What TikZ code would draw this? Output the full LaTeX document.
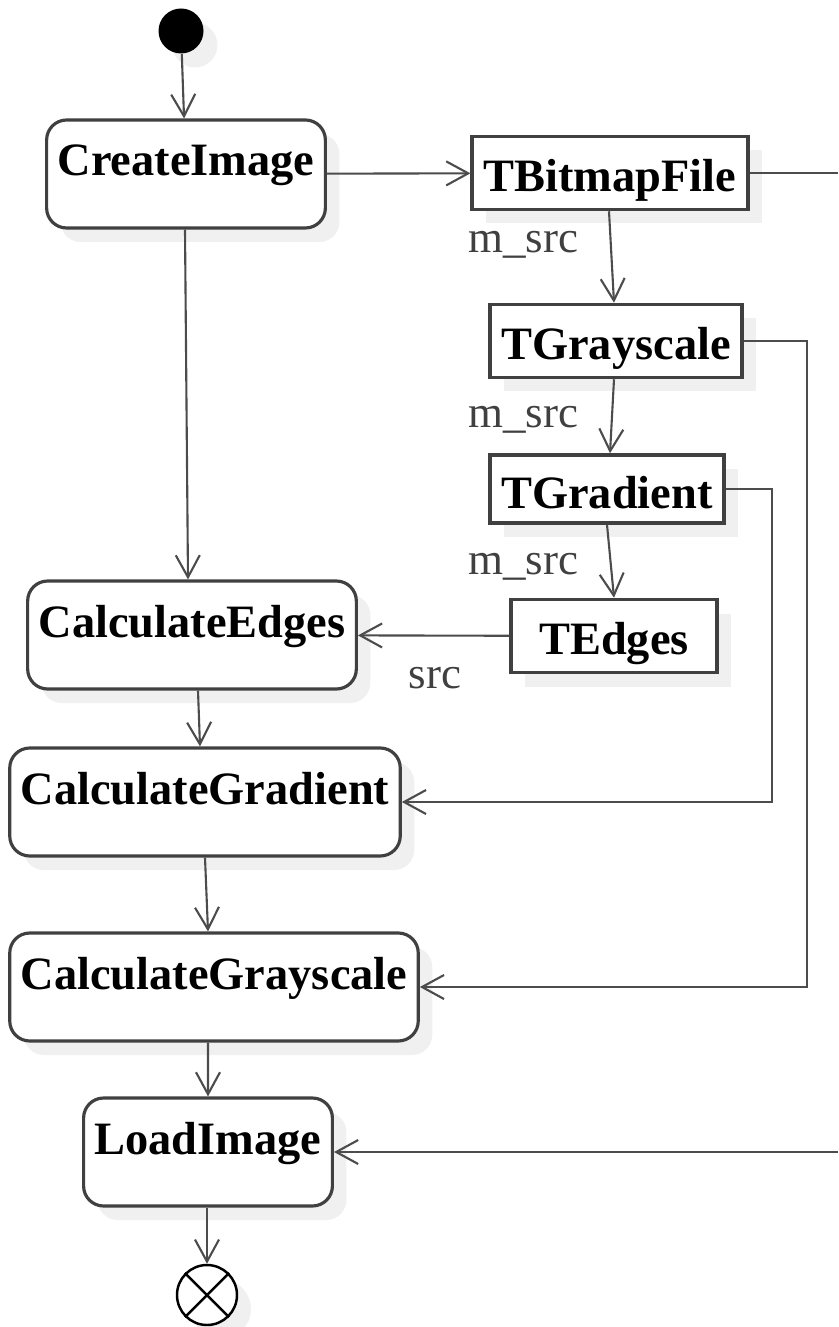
\documentclass[tikz,border=0pt]{standalone}
\usepackage{fontspec}
\setmainfont{Liberation Serif}
\usetikzlibrary{arrows.meta}
\usetikzlibrary{shadows}

\begin{document}
\begin{tikzpicture}[x=0.1mm,y=-0.1mm]
        \tikzset{softshadow/.style = {drop shadow={shadow xshift=1.4mm, shadow yshift=-1.4mm, fill=black!6, opacity=1}}}
        \tikzset{activity/.style = {rectangle, rounded corners=2mm, draw=black!75, line width=0.9pt, fill=white, softshadow,
                font=\fontsize{13.2}{15}\bfseries\selectfont, inner xsep=1.1mm, inner ysep=0pt, text height=5.6mm, text depth=5.2mm}}
        \tikzset{class/.style = {rectangle, draw=black!75, line width=1pt, fill=white, softshadow,
                font=\fontsize{13.2}{15}\bfseries\selectfont, inner xsep=1.15mm, inner ysep=0pt, text height=5.5mm, text depth=1.8mm}}
        \tikzset{flow/.style = {draw=black!70, line width=0.6pt, -{Straight Barb[length=2.2mm,width=2.4mm]}}}
        \tikzset{plain/.style = {draw=black!70, line width=0.6pt}}
        \tikzset{role/.style = {font=\fontsize{12.8}{15}\selectfont, text=black!75}}

        \useasboundingbox (0,0) rectangle (838,1327);

        \node[circle, fill=black, minimum size=4.5mm, inner sep=0pt, softshadow] (start) at (181,31) {};
        \node[circle, draw=black, fill=white, line width=0.7pt, minimum size=6mm, inner sep=0pt, softshadow] (stop) at (207,1295) {};
        \draw[line width=0.7pt] (stop.north east) -- (stop.south west);
        \draw[line width=0.7pt] (stop.north west) -- (stop.south east);

        \node[activity] (create) at (186,174) {CreateImage};
        \node[activity] (calcedges) at (192,635) {CalculateEdges};
        \node[activity] (calcgrad) at (205,802) {CalculateGradient};
        \node[activity] (calcgray) at (214,987) {CalculateGrayscale};
        \node[activity] (load) at (208,1152) {LoadImage};

        \node[class] (bmp) at (610,173) {TBitmapFile};
        \node[class] (gray) at (616,341) {TGrayscale};
        \node[class, text height=5.3mm, text depth=1.5mm] (grad) at (607,489) {TGradient};
        \node[class, minimum width=2.06cm] (edges) at (614,636) {TEdges};

        \coordinate (bmpout) at (838,173);
        \coordinate (loadin) at (838,1152);

        \node[role] (src1) at (523,245) {m\_src};
        \node[role] (src2) at (523,420) {m\_src};
        \node[role] (src3) at (523,567) {m\_src};
        \node[role] (src4) at (435,678) {src};

        \draw[flow] (start) -- (create);
        \draw[flow] ([xshift=-0.1mm]create.south) -- ([xshift=-0.4mm]calcedges.north);
        \draw[flow] ([xshift=0.6mm]calcedges.south) -- ([xshift=-0.5mm]calcgrad.north);
        \draw[flow] (calcgrad.south) -- ([xshift=-0.6mm]calcgray.north);
        \draw[flow] ([xshift=-0.6mm]calcgray.south) -- (load.north);
        \draw[flow] ([xshift=-0.1mm]load.south) -- (stop);

        \draw[flow] (create) -- (bmp);
        \draw[plain] (bmp) -- (bmpout);
        \draw[flow] ([xshift=-0.1mm]bmp.south) -- ([xshift=-0.2mm]gray.north);
        \draw[flow] ([xshift=-0.2mm]gray.south) -- ([xshift=0.3mm]grad.north);
        \draw[flow] (grad.south) -- (edges.north);
        \draw[flow] (edges) -- (calcedges);

        \draw[flow] (grad.east) -- ++(46,0) |- (calcgrad.east);
        \draw[flow] (gray.east) -- ++(63,0) |- (calcgray.east);
        \draw[flow] (loadin) -- (load);
\end{tikzpicture}
\end{document}
